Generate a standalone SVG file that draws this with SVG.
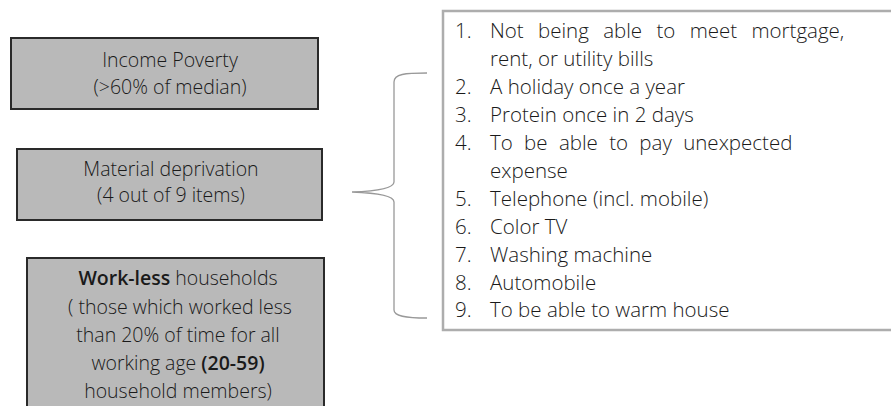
<svg xmlns="http://www.w3.org/2000/svg" width="891" height="406" viewBox="0 0 891 406">
<style>
.box{fill:#b9b9b9;stroke:#2a2a2a;stroke-width:2}
.lt{font-family:"Open Sans","Liberation Sans",sans-serif;font-weight:300;font-size:19.5px;fill:#1a1a1a;text-anchor:middle}
.li{font-family:"Open Sans","Liberation Sans",sans-serif;font-weight:300;font-size:20.5px;fill:#1a1a1a}
.b{font-weight:600}
.list{fill:#ffffff;stroke:#adadad;stroke-width:2.5}
.brace{fill:none;stroke:#999;stroke-width:1.3}
</style>
<rect width="891" height="406" fill="#ffffff"/>
<g id="income-poverty">
<rect class="box" x="11" y="38" width="307" height="71"/>
<text class="lt" x="170" y="67">Income Poverty</text>
<text class="lt" x="170" y="94">(&gt;60% of median)</text>
</g>
<g id="material-deprivation">
<rect class="box" x="17" y="149" width="305" height="71"/>
<text class="lt" x="171" y="176">Material deprivation</text>
<text class="lt" x="171" y="202">(4 out of 9 items)</text>
</g>
<g id="work-less">
<rect class="box" x="27" y="258" width="297" height="160"/>
<text class="lt" x="178" y="285"><tspan class="b">Work-less</tspan> households</text>
<text class="lt" x="180" y="314">( those which worked less</text>
<text class="lt" x="178" y="342">than 20% of  time for all</text>
<text class="lt" x="178" y="370">working age <tspan class="b">(20-59)</tspan></text>
<text class="lt" x="178" y="398">household members)</text>
</g>
<g id="connectors">
<path class="brace" d="M427,73 C405,73 394,74 394,82 L394,182 C394,188 380,191 352,192 C380,193 394,196 394,202 L394,310 C394,316 405,318 427,318"/>
</g>
<g id="items-list">
<rect class="list" x="443" y="11" width="452" height="319"/>
<text class="li" x="455" y="38">1.</text><text class="li" x="490" y="38" word-spacing="9">Not being able to meet mortgage,</text>
<text class="li" x="490" y="66">rent, or utility bills</text>
<text class="li" x="455" y="94">2.</text><text class="li" x="490" y="94">A holiday once a year</text>
<text class="li" x="455" y="122">3.</text><text class="li" x="490" y="122">Protein once in 2 days</text>
<text class="li" x="455" y="150">4.</text><text class="li" x="490" y="150" word-spacing="6">To be able to pay unexpected</text>
<text class="li" x="490" y="178">expense</text>
<text class="li" x="455" y="206">5.</text><text class="li" x="490" y="206">Telephone (incl. mobile)</text>
<text class="li" x="455" y="234">6.</text><text class="li" x="490" y="234">Color TV</text>
<text class="li" x="455" y="262">7.</text><text class="li" x="490" y="262">Washing machine</text>
<text class="li" x="455" y="290">8.</text><text class="li" x="490" y="290">Automobile</text>
<text class="li" x="455" y="317">9.</text><text class="li" x="490" y="317">To be able to warm house</text>
</g>
</svg>
